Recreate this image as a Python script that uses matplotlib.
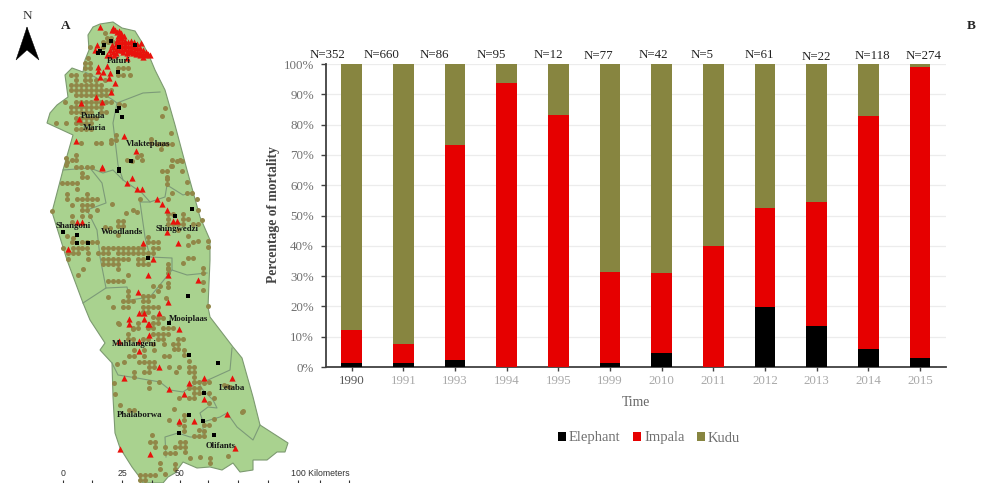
import matplotlib
matplotlib.use('Agg')
import matplotlib.pyplot as plt
from matplotlib.patches import Polygon

SERIF = 'Liberation Serif'

# Bar chart data (percent of mortality per year)
years = ['1990', '1991', '1993', '1994', '1995', '1999', '2010', '2011', '2012', '2013', '2014', '2015']
elephant = [1.2, 1.2, 2.3, 0, 0, 1.3, 4.7, 0, 19.7, 13.6, 5.9, 2.9]
impala = [11.0, 6.5, 71.0, 93.7, 83.3, 29.9, 26.3, 40.0, 32.8, 40.9, 77.1, 96.1]
kudu = [87.8, 92.3, 26.7, 6.3, 16.7, 68.8, 69.0, 60.0, 47.5, 45.5, 17.0, 1.0]
n_labels = ['N=352', 'N=660', 'N=86', 'N=95', 'N=12', 'N=77', 'N=42', 'N=5', 'N=61', 'N=22', 'N=118', 'N=274']
n_label_x = [327, 382, 434, 491, 548, 598, 653, 702, 759, 816, 872, 924]
n_label_y = [55, 55, 55, 55, 55, 56, 55, 55, 55, 57, 56, 56]

# Map data in pixel coordinates
park_outline = [(100, 24), (113, 22), (122, 28), (135, 31), (143, 44), (150, 58), (155, 70), (165, 90), (175, 125),
                (187, 170), (200, 217), (210, 240), (210, 260), (208, 307), (210, 317), (220, 330), (233, 347),
                (242, 358), (253, 397), (260, 425), (288, 443), (285, 452), (277, 452), (267, 460), (253, 460),
                (253, 470), (240, 472), (233, 463), (222, 470), (210, 467), (197, 468), (183, 462), (175, 473),
                (168, 477), (163, 483), (143, 483), (138, 475), (132, 467), (120, 448), (115, 433), (113, 397),
                (112, 363), (100, 350), (105, 343), (90, 320), (83, 303), (67, 260), (52, 212), (63, 170),
                (73, 135), (47, 123), (50, 113), (57, 105), (68, 97), (65, 75), (72, 68), (83, 72), (85, 60),
                (89, 50), (88, 35), (93, 27)]
boundaries = [
    [(85, 72), (97, 78), (97, 90), (113, 100), (117, 103), (143, 93), (160, 92)],
    [(117, 103), (113, 123), (118, 165), (123, 180), (142, 193), (150, 202), (165, 197), (167, 185), (183, 195), (193, 192)],
    [(63, 170), (90, 168), (103, 173), (113, 170), (123, 180)],
    [(90, 168), (102, 183), (106, 203), (87, 210), (97, 230), (100, 257), (106, 288), (83, 303)],
    [(150, 202), (140, 202), (145, 237), (150, 257), (172, 258), (172, 270), (187, 275), (207, 273)],
    [(106, 288), (127, 287), (130, 300), (150, 297), (172, 270)],
    [(112, 363), (118, 375), (137, 378), (160, 382), (170, 390), (183, 392), (198, 382), (208, 380), (230, 370), (232, 348)],
    [(198, 382), (203, 390), (213, 400), (217, 408), (208, 407), (200, 413), (203, 422), (220, 417), (227, 413), (237, 427), (253, 440), (260, 425)],
    [(166, 457), (165, 437), (178, 433), (190, 437), (203, 437), (203, 423)],
]
map_labels = ['Pafuri', 'Punda', 'Maria', 'Vlakteplaas', 'Shangoni', 'Woodlands', 'Shingwedzi', 'Mooiplaas',
              'Mahlangeni', 'Letaba', 'Phalaborwa', 'Olifants']
map_label_x = [119, 93, 95, 148, 73, 122, 177, 188, 134, 232, 140, 221]
map_label_y = [61, 116, 128, 144, 226, 232, 229, 319, 344, 388, 415, 446]

kudu_sites = [
    (105, 33), (107, 38), (111, 38), (103, 42), (108, 42), (113, 42), (90, 47), (103, 47), (97, 52), (88, 58), (85, 63), (90, 63),
    (85, 68), (90, 68), (118, 68), (123, 68), (128, 68), (71, 75), (76, 75), (85, 75), (90, 75), (118, 75), (123, 75), (130, 75),
    (76, 80), (85, 80), (90, 80), (96, 80), (105, 80), (71, 85), (76, 85), (81, 85), (86, 85), (91, 85), (96, 85), (101, 85),
    (71, 90), (76, 90), (81, 90), (86, 90), (91, 90), (96, 90), (101, 90), (106, 90), (111, 90), (76, 95), (81, 95), (86, 95),
    (91, 95), (96, 95), (101, 95), (106, 95), (65, 102), (76, 102), (81, 102), (86, 102), (91, 102), (96, 102), (101, 102),
    (106, 102), (111, 102), (71, 107), (76, 107), (81, 107), (86, 107), (91, 107), (96, 107), (101, 107), (119, 104), (71, 112),
    (76, 112), (81, 112), (86, 112), (91, 112), (101, 112), (106, 112), (124, 105), (76, 118), (81, 118), (86, 118), (91, 118),
    (96, 118), (56, 123), (66, 123), (76, 123), (81, 123), (86, 123), (91, 123), (76, 129), (81, 129), (86, 129), (91, 129),
    (116, 135), (111, 140), (116, 140), (81, 143), (96, 143), (101, 143), (111, 143), (151, 143), (157, 144), (162, 144),
    (167, 144), (172, 144), (165, 108), (162, 116), (171, 133), (151, 139), (161, 149), (141, 155), (76, 155), (76, 160), (72, 160),
    (142, 160), (66, 158), (67, 162), (66, 165), (76, 167), (81, 167), (87, 167), (92, 167), (132, 161), (127, 160), (137, 157),
    (172, 160), (180, 160), (171, 166), (82, 173), (82, 177), (87, 177), (62, 183), (67, 183), (72, 183), (77, 183), (77, 189),
    (67, 194), (87, 194), (67, 199), (77, 199), (82, 199), (87, 199), (92, 199), (97, 199), (72, 205), (82, 205), (87, 205),
    (92, 205), (112, 204), (82, 210), (87, 210), (97, 210), (52, 211), (72, 216), (82, 216), (90, 216), (133, 210), (137, 212),
    (126, 213), (118, 221), (123, 221), (118, 226), (123, 226), (72, 222), (67, 236), (73, 238), (105, 227), (110, 228), (118, 235),
    (72, 242), (82, 242), (87, 242), (92, 242), (97, 242), (63, 248), (73, 248), (78, 248), (82, 248), (87, 248), (103, 248),
    (108, 248), (113, 248), (118, 248), (123, 248), (128, 248), (133, 248), (138, 248), (143, 248), (153, 248), (158, 248),
    (68, 253), (73, 253), (78, 253), (88, 253), (98, 253), (103, 253), (108, 253), (118, 253), (123, 253), (128, 253), (133, 253),
    (138, 253), (143, 253), (148, 253), (153, 253), (68, 259), (88, 259), (103, 259), (108, 259), (113, 259), (118, 259), (123, 259),
    (128, 259), (138, 259), (143, 259), (103, 264), (108, 264), (113, 264), (118, 264), (138, 264), (143, 264), (148, 264), (168, 264),
    (83, 269), (118, 269), (168, 269), (78, 275), (128, 275), (108, 281), (113, 281), (118, 281), (123, 281),
    (172, 166), (177, 161), (182, 161), (162, 171), (167, 171), (182, 171), (167, 177), (167, 179), (187, 182), (167, 184), (172, 193),
    (187, 193), (192, 193), (140, 199), (168, 199), (197, 199), (198, 210), (202, 220), (168, 214), (173, 214), (183, 214), (168, 219),
    (183, 219), (168, 224), (173, 224), (178, 224), (183, 224), (188, 219), (193, 224), (198, 224), (178, 230), (188, 236), (148, 237),
    (193, 242), (198, 241), (208, 241), (148, 242), (153, 242), (158, 242), (188, 245), (208, 247), (188, 258), (193, 258), (183, 263),
    (168, 268), (203, 268), (168, 273), (203, 273), (168, 283), (203, 282), (203, 290), (160, 286), (153, 286), (168, 287), (158, 291),
    (128, 291), (143, 296), (148, 296), (153, 296), (128, 296), (108, 297), (166, 298), (143, 301), (148, 301), (133, 301), (123, 301),
    (128, 301), (208, 306), (123, 307), (113, 307), (143, 307), (148, 307), (153, 307), (158, 307), (128, 307), (143, 312), (148, 312),
    (153, 317), (158, 318), (163, 318), (153, 323), (158, 323), (118, 323), (138, 323), (173, 328), (168, 328), (163, 328), (153, 328),
    (148, 328), (138, 328), (133, 328), (119, 324), (133, 329), (128, 334), (153, 334), (158, 334), (163, 334), (168, 334), (128, 339),
    (133, 339), (143, 339), (148, 339), (158, 339), (163, 339), (178, 339), (183, 339), (153, 344), (164, 344), (173, 344), (178, 344),
    (134, 350), (144, 350), (154, 350), (174, 349), (178, 349), (184, 350), (129, 356), (134, 356), (144, 356), (164, 356), (169, 356),
    (184, 355), (124, 362), (139, 362), (144, 362), (149, 362), (154, 362), (189, 361), (117, 364), (149, 367), (154, 367), (169, 367),
    (179, 367), (189, 367), (194, 367), (134, 372), (144, 372), (149, 372), (176, 372), (189, 372), (194, 372), (134, 377), (194, 377),
    (114, 383), (149, 382), (159, 382), (209, 382), (199, 382), (194, 382), (204, 383), (149, 388), (194, 388), (199, 388), (189, 388),
    (224, 385), (227, 386), (230, 387), (209, 393), (194, 393), (199, 393), (115, 394), (189, 398), (194, 398), (179, 398), (214, 398),
    (209, 403), (120, 405), (129, 410), (134, 410), (174, 409), (243, 411), (242, 412), (184, 415), (169, 420), (214, 419), (184, 420),
    (179, 424), (204, 425), (209, 425), (184, 426), (199, 430), (184, 431), (204, 431), (194, 436), (199, 436), (204, 436), (152, 435),
    (185, 442), (180, 442), (150, 442), (155, 442), (155, 447), (165, 447), (175, 447), (180, 447), (185, 447), (165, 453), (170, 453),
    (175, 453), (185, 452), (190, 458), (200, 457), (210, 458), (228, 456), (160, 463), (175, 464), (210, 463), (175, 469), (160, 469),
    (165, 474), (140, 475), (145, 475), (150, 475), (155, 475), (140, 480), (145, 480),
]
impala_sites = [
    (113, 28), (115, 30), (117, 32), (120, 35), (122, 38), (112, 30), (119, 31), (121, 33), (107, 55), (110, 50), (113, 47), (113, 52),
    (116, 44), (116, 49), (116, 53), (119, 42), (119, 46), (119, 50), (122, 42), (122, 46), (122, 50), (125, 41), (125, 45), (125, 49),
    (128, 42), (128, 46), (128, 50), (131, 41), (131, 46), (131, 50), (134, 42), (134, 47), (134, 51), (137, 44), (137, 48), (137, 52),
    (140, 48), (140, 52), (143, 50), (143, 54), (146, 52), (148, 54), (141, 43), (110, 55), (120, 38), (118, 36), (123, 52), (127, 53),
    (130, 52), (133, 53), (136, 54), (140, 55), (145, 55), (150, 55), (117, 40), (112, 45), (114, 55), (124, 36),
    (100, 27), (97, 45), (95, 50), (127, 58), (143, 57), (98, 67), (107, 66), (103, 72), (98, 71), (100, 77), (110, 73), (109, 78), (115, 83),
    (111, 92), (96, 97), (102, 102), (81, 103), (79, 119), (76, 141), (124, 136), (136, 151), (102, 168), (102, 167), (132, 178), (127, 183),
    (137, 189), (142, 189), (157, 199), (162, 204), (167, 210), (77, 222), (82, 222), (177, 221), (173, 221), (167, 232), (178, 243), (143, 243),
    (68, 249), (153, 259), (148, 275), (168, 275), (198, 280), (138, 292), (168, 302), (139, 313), (144, 313), (159, 313), (129, 319), (144, 319),
    (129, 324), (148, 324), (149, 324), (179, 329), (149, 335), (119, 341), (139, 341), (139, 351), (159, 367), (124, 378), (204, 378), (232, 378),
    (189, 383), (169, 389), (204, 399), (227, 414), (179, 421), (194, 421), (235, 448), (120, 449), (150, 454), (184, 394),
]
elephant_sites = [
    (104, 45), (111, 41), (119, 47), (135, 45), (98, 53), (100, 51), (103, 53), (118, 72), (119, 108), (117, 111), (122, 117), (131, 161),
    (119, 169), (119, 171), (192, 209), (175, 216), (63, 232), (77, 235), (88, 243), (77, 243), (148, 258), (188, 296), (169, 323), (189, 355),
    (218, 363), (204, 393), (189, 415), (203, 421), (179, 433), (214, 435),
]
north_arrow_left = [(27, 27), (16, 60), (27, 50)]
north_arrow_right = [(27, 27), (39, 60), (27, 50)]
scale_labels = ['0', '25', '50', '100 Kilometers']
scale_label_x = [63, 122, 180, 291]
scale_ticks = [63, 92, 122, 152, 180, 208, 238, 268, 298, 320, 349]

fig = plt.figure(figsize=(9.87, 4.83), dpi=100)

# Full-figure axes in pixels for the map and loose labels
ax_map = fig.add_axes([0, 0, 1, 1])
ax_map.set_xlim(0, 987)
ax_map.set_ylim(483, 0)
ax_map.axis('off')

ax_map.add_patch(Polygon(park_outline, closed=True, facecolor='#a9d28f', edgecolor='#7c9a70', linewidth=0.8))
for line in boundaries:
    ax_map.plot([p[0] for p in line], [p[1] for p in line], color='#7c9a78', linewidth=0.8)
ax_map.scatter([p[0] for p in kudu_sites], [p[1] for p in kudu_sites], s=13, color='#918748', linewidths=0, zorder=3)
ax_map.scatter([p[0] for p in impala_sites], [p[1] for p in impala_sites], s=20, marker='^', color='#e8120c', linewidths=0, zorder=4)
ax_map.scatter([p[0] for p in elephant_sites], [p[1] for p in elephant_sites], s=12, marker='s', color='black', linewidths=0, zorder=5)

for label, x, y in zip(map_labels, map_label_x, map_label_y):
    ax_map.text(x, y, label, family=SERIF, fontsize=6.3, fontweight='bold', ha='center', va='center', color='#141414', zorder=6)

# North arrow and panel letters
ax_map.add_patch(Polygon(north_arrow_left, closed=True, facecolor='black', edgecolor='black', linewidth=0.3))
ax_map.add_patch(Polygon(north_arrow_right, closed=True, facecolor='black', edgecolor='black', linewidth=0.3))
ax_map.text(27, 16, 'N', family=SERIF, fontsize=9.5, ha='center', va='center', color='#333333')
ax_map.text(66, 26, 'A', family=SERIF, fontsize=9.5, fontweight='bold', ha='center', va='center', color='#222222')
ax_map.text(971, 26, 'B', family=SERIF, fontsize=9.5, fontweight='bold', ha='center', va='center', color='#222222')

# Scale bar, cut by the bottom edge like the original
for label, x in zip(scale_labels, scale_label_x):
    ax_map.text(x, 474, label, family='Liberation Sans', fontsize=6.3, ha='left' if len(label) > 2 else 'center', va='center', color='#333333')
ax_map.vlines(scale_ticks, 480, 483, color='#333333', linewidth=0.8)

for label, x, y in zip(n_labels, n_label_x, n_label_y):
    ax_map.text(x, y, label, family=SERIF, fontsize=9.3, ha='center', va='center', color='#222222')

ax_map.text(274, 215, 'Percentage of mortality', family=SERIF, fontsize=9.8, fontweight='bold', rotation=90,
            ha='center', va='center', color='#444444')
ax_map.text(636, 403, 'Time', family=SERIF, fontsize=9.8, ha='center', va='center', color='#666666')

# Stacked bars
ax = fig.add_axes([325.8 / 987, 1 - 367 / 483, (946 - 325.8) / 987, 303 / 483])
ax.patch.set_alpha(0)
pos = list(range(len(years)))
bottom_impala = elephant
bottom_kudu = [e + i for e, i in zip(elephant, impala)]
ax.bar(pos, elephant, 0.4, color='black', label='Elephant', zorder=3)
ax.bar(pos, impala, 0.4, bottom=bottom_impala, color='#e60000', label='Impala', zorder=3)
ax.bar(pos, kudu, 0.4, bottom=bottom_kudu, color='#878540', label='Kudu', zorder=3)

ax.set_xlim(-0.5, 11.5)
ax.set_ylim(0, 100)
ax.set_yticks(range(0, 101, 10))
ax.set_yticklabels([f'{v}%' for v in range(0, 101, 10)], family=SERIF, fontsize=9.3, color='#707070')
ax.set_xticks(pos)
ax.set_xticklabels(years, family=SERIF, fontsize=9.3, color='#a8a8a8')
ax.get_xticklabels()[0].set_color('#555555')
ax.yaxis.grid(True, color='#ececec', linewidth=0.9, zorder=0)
ax.set_axisbelow(True)
ax.tick_params(axis='y', length=3.5, width=1, color='#404040', pad=5)
ax.tick_params(axis='x', length=3, width=1, color='#404040', pad=3)
for side in ['top', 'right']:
    ax.spines[side].set_visible(False)
for side in ['left', 'bottom']:
    ax.spines[side].set_color('#404040')
    ax.spines[side].set_linewidth(1.3)

leg = ax.legend(loc='center', bbox_to_anchor=(649 / 987, 1 - 438 / 483), bbox_transform=fig.transFigure, ncol=3,
                frameon=False, handlelength=0.55, handleheight=0.55, handletextpad=0.2, columnspacing=0.85,
                prop={'family': SERIF, 'size': 10.5})
for t in leg.get_texts():
    t.set_color('#707070')

fig.savefig('out.png', dpi=100)
